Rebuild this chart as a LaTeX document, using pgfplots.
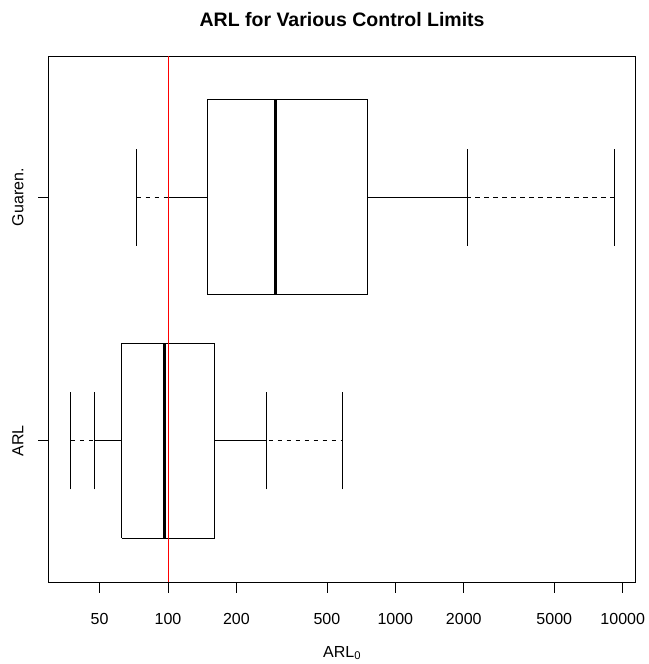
\documentclass[border=0pt]{standalone}
\usepackage{pgfplots}
\pgfplotsset{compat=1.18}
\usepackage{fontspec}
\setmainfont{Liberation Sans}
\usetikzlibrary{calc}

\begin{document}
\begin{tikzpicture}
\begin{axis}[
  scale only axis,
  width=587.2pt, height=526pt,
  xmode=log,
  xmin=29.82, xmax=11408,
  ymin=0.42, ymax=2.58,
  xtick={50,100,200,500,1000,2000,5000,10000},
  xticklabels={50,100,200,500,1000,2000,5000,10000},
  ytick={1,2},
  yticklabels={ARL,Guaren.},
  minor xtick={},
  tick align=outside,
  major tick length=10.5pt,
  tick style={black, line width=0.8pt},
  xtick pos=bottom, ytick pos=left,
  axis line style={line width=0.8pt},
  ticklabel style={font=\fontsize{16}{19}\selectfont},
  xticklabel style={yshift=-17pt},
  yticklabel style={rotate=90, anchor=south, yshift=11pt},
  xlabel={ARL\textsubscript{0}},
  xlabel style={font=\fontsize{16}{19}\selectfont, yshift=-15pt},
  title={\bfseries ARL for Various Control Limits},
  title style={font=\fontsize{19.5}{23}\selectfont, at={(0.5,1)}, anchor=base, yshift=23pt},
  clip=false,
  cycle list={{black,solid,mark=none}},
]
% ---- ARL (y = 1) ----
\addplot[black, solid, line width=0.8pt] coordinates {(62.6,0.6) (160.5,0.6) (160.5,1.4) (62.6,1.4) (62.6,0.6)};
\addplot[black, line width=0.8pt, dash pattern=on 4.5pt off 4.5pt] coordinates {(37.4,1) (62.6,1)};
\addplot[black, line width=0.8pt, dash pattern=on 4.5pt off 4.5pt] coordinates {(160.5,1) (586.7,1)};
\addplot[black, solid, line width=0.8pt] coordinates {(47.3,1) (62.6,1)};
\addplot[black, solid, line width=0.8pt] coordinates {(160.5,1) (271.8,1)};
\addplot[black, solid, line width=0.8pt] coordinates {(37.4,0.8) (37.4,1.2)};
\addplot[black, solid, line width=0.8pt] coordinates {(47.3,0.8) (47.3,1.2)};
\addplot[black, solid, line width=0.8pt] coordinates {(271.8,0.8) (271.8,1.2)};
\addplot[black, solid, line width=0.8pt] coordinates {(586.7,0.8) (586.7,1.2)};
\addplot[black, solid, line width=3pt] coordinates {(96.3,0.6) (96.3,1.4)};
% ---- Guaren. (y = 2) ----
\addplot[black, solid, line width=0.8pt] coordinates {(149.5,1.6) (752.5,1.6) (752.5,2.4) (149.5,2.4) (149.5,1.6)};
\addplot[black, line width=0.8pt, dash pattern=on 4.5pt off 4.5pt] coordinates {(72.8,2) (149.5,2)};
\addplot[black, line width=0.8pt, dash pattern=on 4.5pt off 4.5pt] coordinates {(752.5,2) (9156,2)};
\addplot[black, solid, line width=0.8pt] coordinates {(100,2) (149.5,2)};
\addplot[black, solid, line width=0.8pt] coordinates {(752.5,2) (2081,2)};
\addplot[black, solid, line width=0.8pt] coordinates {(72.8,1.8) (72.8,2.2)};
\addplot[black, solid, line width=0.8pt] coordinates {(100,1.8) (100,2.2)};
\addplot[black, solid, line width=0.8pt] coordinates {(2081,1.8) (2081,2.2)};
\addplot[black, solid, line width=0.8pt] coordinates {(9156,1.8) (9156,2.2)};
\addplot[black, solid, line width=3pt] coordinates {(298.5,1.6) (298.5,2.4)};
% reference limit
\addplot[color=red, solid, line width=0.8pt] coordinates {(100,0.42) (100,2.58)};
\end{axis}
\path ($(current axis.south west)+(-48.5pt,-82pt)$) rectangle ($(current axis.north east)+(13.3pt,56pt)$);
\end{tikzpicture}
\end{document}
